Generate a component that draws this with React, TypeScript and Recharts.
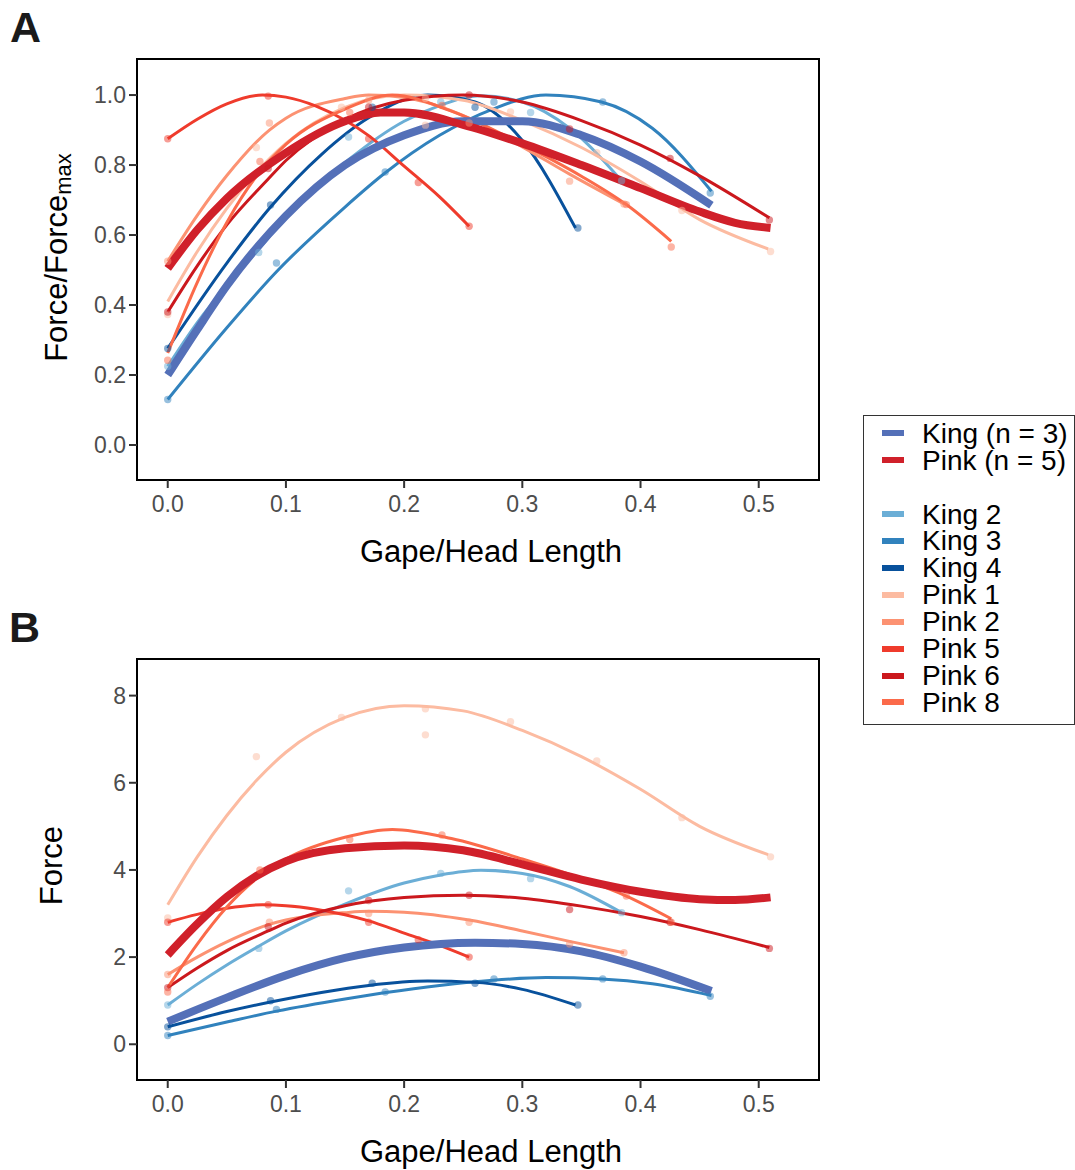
import { ComposedChart, Line, Scatter, XAxis, YAxis, ReferenceArea } from 'recharts'

// ---------------------------------------------------------------------------
// Series meta
// ---------------------------------------------------------------------------

const FONT = '"Liberation Sans", Arial, Helvetica, sans-serif'

const SERIES_NAMES = ['King 2', 'King 3', 'King 4', 'Pink 1', 'Pink 2', 'Pink 5', 'Pink 6', 'Pink 8']
const SERIES_COLORS = ['#6baed6', '#3182bd', '#08519c', '#fcbba1', '#fc9272', '#ef3b2c', '#cb181d', '#fb6a4a']
const AVG_NAMES = ['King (n = 3)', 'Pink (n = 5)']
const AVG_COLORS = ['#5470b8', '#d0202a']

const X_TICKS = [0, 0.1, 0.2, 0.3, 0.4, 0.5]
const Y_TICKS_A = [0, 0.2, 0.4, 0.6, 0.8, 1.0]
const Y_TICKS_B = [0, 2, 4, 6, 8]

// ---------------------------------------------------------------------------
// Panel A — normalised force (fitted curves)
// ---------------------------------------------------------------------------

const kingAvgFitA = [[0, 0.2], [0.025, 0.33], [0.05, 0.455], [0.1, 0.655], [0.15, 0.8], [0.2, 0.885], [0.25, 0.925], [0.3, 0.925], [0.35, 0.885], [0.4, 0.81], [0.46, 0.685]]
const pinkAvgFitA = [[0, 0.505], [0.025, 0.615], [0.05, 0.705], [0.1, 0.835], [0.15, 0.925], [0.18, 0.95], [0.2, 0.95], [0.25, 0.915], [0.3, 0.862], [0.35, 0.8], [0.4, 0.734], [0.45, 0.667], [0.48, 0.635], [0.51, 0.62]]

const king2FitA = [[0, 0.225], [0.025, 0.35], [0.05, 0.455], [0.077, 0.56], [0.1, 0.65], [0.153, 0.815], [0.2, 0.925], [0.23, 0.97], [0.265, 0.998], [0.3, 0.98], [0.34, 0.905], [0.384, 0.755]]
const king3FitA = [[0, 0.13], [0.05, 0.335], [0.092, 0.495], [0.15, 0.68], [0.183, 0.775], [0.23, 0.885], [0.275, 0.96], [0.32, 1.0], [0.367, 0.98], [0.41, 0.905], [0.46, 0.725]]
const king4FitA = [[0, 0.276], [0.05, 0.52], [0.087, 0.68], [0.13, 0.83], [0.17, 0.935], [0.22, 1.0], [0.26, 0.98], [0.3, 0.87], [0.345, 0.62]]
const pink1FitA = [[0, 0.41], [0.025, 0.553], [0.05, 0.676], [0.075, 0.779], [0.1, 0.862], [0.15, 0.965], [0.2, 1.0], [0.25, 0.985], [0.3, 0.927], [0.35, 0.85], [0.4, 0.753], [0.45, 0.644], [0.508, 0.56]]
const pink2FitA = [[0, 0.525], [0.025, 0.656], [0.05, 0.77], [0.086, 0.9], [0.1, 0.934], [0.15, 0.99], [0.17, 1.0], [0.2, 0.993], [0.255, 0.934], [0.3, 0.852], [0.34, 0.774], [0.386, 0.689]]
const pink5FitA = [[0, 0.875], [0.025, 0.931], [0.05, 0.975], [0.08, 1.0], [0.1, 0.994], [0.125, 0.969], [0.15, 0.928], [0.17, 0.884], [0.2, 0.797], [0.23, 0.709], [0.255, 0.625]]
const pink6FitA = [[0, 0.38], [0.025, 0.512], [0.05, 0.629], [0.085, 0.76], [0.1, 0.813], [0.15, 0.93], [0.2, 0.985], [0.25, 1.0], [0.3, 0.98], [0.35, 0.927], [0.4, 0.857], [0.45, 0.769], [0.509, 0.649]]
const pink8FitA = [[0, 0.263], [0.025, 0.465], [0.05, 0.636], [0.075, 0.768], [0.1, 0.859], [0.15, 0.96], [0.19, 1.0], [0.24, 0.954], [0.3, 0.859], [0.35, 0.768], [0.388, 0.687], [0.426, 0.582]]

const king2DotsA = [[0, 0.225], [0.077, 0.55], [0.153, 0.88], [0.231, 0.98], [0.307, 0.95], [0.384, 0.755]]
const king3DotsA = [[0, 0.13], [0.092, 0.52], [0.184, 0.78], [0.276, 0.98], [0.368, 0.98], [0.459, 0.72]]
const king4DotsA = [[0, 0.276], [0.087, 0.686], [0.173, 0.965], [0.26, 0.965], [0.347, 0.62]]
const pink1DotsA = [[0, 0.373], [0.075, 0.85], [0.147, 0.965], [0.218, 0.99], [0.218, 0.914], [0.29, 0.952], [0.363, 0.835], [0.435, 0.67], [0.51, 0.553]]
const pink2DotsA = [[0, 0.525], [0.086, 0.92], [0.17, 0.985], [0.255, 0.92], [0.34, 0.754], [0.386, 0.689]]
const pink5DotsA = [[0, 0.875], [0.085, 0.997], [0.17, 0.875], [0.212, 0.75], [0.255, 0.625]]
const pink6DotsA = [[0, 0.38], [0.085, 0.79], [0.17, 0.965], [0.255, 1.0], [0.34, 0.903], [0.425, 0.819], [0.509, 0.643]]
const pink8DotsA = [[0, 0.242], [0.078, 0.81], [0.154, 0.95], [0.232, 0.97], [0.388, 0.687], [0.426, 0.566]]

// ---------------------------------------------------------------------------
// Panel B — absolute force
// ---------------------------------------------------------------------------

const kingAvgFitB = [[0, 0.52], [0.05, 1.07], [0.1, 1.58], [0.15, 1.98], [0.2, 2.22], [0.26, 2.33], [0.3, 2.3], [0.35, 2.13], [0.4, 1.78], [0.46, 1.22]]
const pinkAvgFitB = [[0, 2.05], [0.025, 2.76], [0.05, 3.38], [0.075, 3.86], [0.1, 4.2], [0.15, 4.5], [0.2, 4.56], [0.25, 4.45], [0.3, 4.13], [0.35, 3.78], [0.4, 3.5], [0.45, 3.33], [0.48, 3.31], [0.51, 3.37]]

const king2FitB = [[0, 0.9], [0.025, 1.38], [0.05, 1.82], [0.077, 2.25], [0.1, 2.6], [0.153, 3.25], [0.2, 3.7], [0.23, 3.88], [0.265, 3.99], [0.3, 3.92], [0.34, 3.62], [0.384, 3.02]]
const king3FitB = [[0, 0.2], [0.05, 0.51], [0.092, 0.76], [0.15, 1.04], [0.183, 1.18], [0.23, 1.35], [0.275, 1.47], [0.32, 1.53], [0.367, 1.5], [0.41, 1.39], [0.46, 1.12]]
const king4FitB = [[0, 0.4], [0.05, 0.75], [0.087, 0.97], [0.13, 1.19], [0.17, 1.35], [0.22, 1.45], [0.26, 1.42], [0.3, 1.26], [0.345, 0.9]]
const pink1FitB = [[0, 3.2], [0.025, 4.3], [0.05, 5.25], [0.075, 6.05], [0.1, 6.7], [0.15, 7.5], [0.2, 7.77], [0.25, 7.65], [0.3, 7.2], [0.35, 6.6], [0.4, 5.85], [0.45, 5.0], [0.508, 4.35]]
const pink2FitB = [[0, 1.6], [0.025, 2.0], [0.05, 2.35], [0.086, 2.75], [0.1, 2.85], [0.15, 3.02], [0.17, 3.05], [0.2, 3.03], [0.255, 2.85], [0.3, 2.6], [0.34, 2.36], [0.386, 2.1]]
const pink5FitB = [[0, 2.8], [0.025, 2.98], [0.05, 3.12], [0.08, 3.2], [0.1, 3.18], [0.125, 3.1], [0.15, 2.97], [0.17, 2.83], [0.2, 2.55], [0.23, 2.27], [0.255, 2.0]]
const pink6FitB = [[0, 1.3], [0.025, 1.75], [0.05, 2.15], [0.085, 2.6], [0.1, 2.78], [0.15, 3.18], [0.2, 3.37], [0.25, 3.42], [0.3, 3.35], [0.35, 3.17], [0.4, 2.93], [0.45, 2.63], [0.509, 2.22]]
const pink8FitB = [[0, 1.3], [0.025, 2.3], [0.05, 3.15], [0.075, 3.8], [0.1, 4.25], [0.15, 4.75], [0.19, 4.93], [0.24, 4.72], [0.3, 4.25], [0.35, 3.8], [0.388, 3.4], [0.426, 2.88]]

const king2DotsB = [[0, 0.9], [0.077, 2.2], [0.153, 3.52], [0.231, 3.92], [0.307, 3.8], [0.384, 3.02]]
const king3DotsB = [[0, 0.2], [0.092, 0.8], [0.184, 1.2], [0.276, 1.5], [0.368, 1.5], [0.459, 1.1]]
const king4DotsB = [[0, 0.4], [0.087, 1.0], [0.173, 1.4], [0.26, 1.4], [0.347, 0.9]]
const pink1DotsB = [[0, 2.9], [0.075, 6.6], [0.147, 7.5], [0.218, 7.7], [0.218, 7.1], [0.29, 7.4], [0.363, 6.5], [0.435, 5.2], [0.51, 4.3]]
const pink2DotsB = [[0, 1.6], [0.086, 2.8], [0.17, 3.0], [0.255, 2.8], [0.34, 2.3], [0.386, 2.1]]
const pink5DotsB = [[0, 2.8], [0.085, 3.2], [0.17, 2.8], [0.212, 2.4], [0.255, 2.0]]
const pink6DotsB = [[0, 1.3], [0.085, 2.7], [0.17, 3.3], [0.255, 3.42], [0.34, 3.09], [0.425, 2.8], [0.509, 2.2]]
const pink8DotsB = [[0, 1.2], [0.078, 4.0], [0.154, 4.7], [0.232, 4.8], [0.388, 3.4], [0.426, 2.8]]

// ---------------------------------------------------------------------------
// Layout constants
// ---------------------------------------------------------------------------

const CHART_W = 840
const CHART_H = 600
const X_DOMAIN: [number, number] = [-0.026, 0.551]

const toPts = (arr: number[][]) => arr.map(([x, y]) => ({ x, y }))

const dotShape = (color: string) => (props: any) => (
  <circle cx={props.cx} cy={props.cy} r={3.7} fill={color} fillOpacity={0.5} />
)

interface PanelProps {
  fits: number[][][]
  avgFits: number[][][]
  dots: number[][][]
  yDomain: [number, number]
  yTicks: number[]
  yDecimals: number
  yTitle: React.ReactNode
  top: number
}

function Panel({ fits, avgFits, dots, yDomain, yTicks, yDecimals, yTitle, top }: PanelProps) {
  const tickStyle = { fill: '#4d4d4d', fontSize: 23, fontFamily: FONT }
  const tickLine = { stroke: '#333', strokeWidth: 2 }
  return (
    <div style={{ position: 'absolute', left: 0, top, width: CHART_W, height: CHART_H }}>
      <ComposedChart width={CHART_W} height={CHART_H} margin={{ top: 59, right: 21, bottom: 20, left: 0 }}>
        <XAxis
          type="number"
          dataKey="x"
          domain={X_DOMAIN}
          ticks={X_TICKS}
          allowDataOverflow
          tickFormatter={(v: number) => v.toFixed(1)}
          height={100}
          tickSize={8}
          tickMargin={8}
          axisLine={false}
          tickLine={tickLine}
          tick={tickStyle}
          label={() => (
            <text x={491} y={562} textAnchor="middle" fontSize={31} fontFamily={FONT} fill="#000">
              Gape/Head Length
            </text>
          )}
        />
        <YAxis
          type="number"
          domain={yDomain}
          ticks={yTicks}
          allowDataOverflow
          tickFormatter={(v: number) => v.toFixed(yDecimals)}
          width={137}
          tickSize={8}
          tickMargin={3}
          axisLine={false}
          tickLine={tickLine}
          tick={tickStyle}
          label={() => yTitle}
        />

        {/* individual fits */}
        {fits.map((f, i) => (
          <Line
            key={SERIES_NAMES[i]}
            data={toPts(f)}
            dataKey="y"
            type="monotone"
            stroke={SERIES_COLORS[i]}
            strokeWidth={3}
            dot={false}
            activeDot={false}
            isAnimationActive={false}
          />
        ))}

        {/* group averages */}
        {avgFits.map((f, i) => (
          <Line
            key={AVG_NAMES[i]}
            data={toPts(f)}
            dataKey="y"
            type="monotone"
            stroke={AVG_COLORS[i]}
            strokeWidth={8}
            dot={false}
            activeDot={false}
            isAnimationActive={false}
          />
        ))}

        {/* raw points */}
        {dots.map((d, i) => (
          <Scatter
            key={SERIES_NAMES[i] + '-pts'}
            data={toPts(d)}
            dataKey="y"
            shape={dotShape(SERIES_COLORS[i])}
            isAnimationActive={false}
          />
        ))}

        <ReferenceArea
          x1={X_DOMAIN[0]}
          x2={X_DOMAIN[1]}
          y1={yDomain[0]}
          y2={yDomain[1]}
          fill="none"
          stroke="#000"
          strokeWidth={2}
          ifOverflow="visible"
        />
      </ComposedChart>
    </div>
  )
}

// ---------------------------------------------------------------------------
// Shared legend
// ---------------------------------------------------------------------------

const LEGEND_ROWS: ({ name: string; color: string } | null)[] = [
  ...AVG_NAMES.map((name, i) => ({ name, color: AVG_COLORS[i] })),
  null,
  ...SERIES_NAMES.map((name, i) => ({ name, color: SERIES_COLORS[i] })),
]

function SharedLegend() {
  const rowH = 26.9
  return (
    <div
      style={{
        position: 'absolute',
        left: 863,
        top: 415,
        width: 212,
        height: 310,
        boxSizing: 'border-box',
        border: '1.5px solid #333',
        background: '#fff',
      }}
    >
      {LEGEND_ROWS.map((row, k) =>
        row ? (
          <div
            key={row.name}
            style={{ position: 'absolute', left: 0, top: 4.8 + k * rowH, height: 26, width: 210 }}
          >
            <div style={{ position: 'absolute', left: 17.5, top: 9.7, width: 22, height: 6, background: row.color }} />
            <div
              style={{
                position: 'absolute',
                left: 58,
                top: 0,
                fontSize: 28,
                lineHeight: '26px',
                fontFamily: FONT,
                color: '#000',
                whiteSpace: 'nowrap',
              }}
            >
              {row.name}
            </div>
          </div>
        ) : null
      )}
    </div>
  )
}

// ---------------------------------------------------------------------------
// App
// ---------------------------------------------------------------------------

export default function App() {
  const letter = { position: 'absolute' as const, fontSize: 43, fontWeight: 700, lineHeight: '43px', fontFamily: FONT, color: '#1a1a1a' }

  return (
    <div style={{ position: 'absolute', left: 0, top: 0, width: 1075, height: 1170, background: '#fff', overflow: 'hidden' }}>
      <div style={{ ...letter, left: 10, top: 6 }}>A</div>
      <div style={{ ...letter, left: 9, top: 606 }}>B</div>

      <Panel
        top={0}
        fits={[king2FitA, king3FitA, king4FitA, pink1FitA, pink2FitA, pink5FitA, pink6FitA, pink8FitA]}
        avgFits={[kingAvgFitA, pinkAvgFitA]}
        dots={[king2DotsA, king3DotsA, king4DotsA, pink1DotsA, pink2DotsA, pink5DotsA, pink6DotsA, pink8DotsA]}
        yDomain={[-0.1, 1.103]}
        yTicks={Y_TICKS_A}
        yDecimals={1}
        yTitle={
          <text transform="translate(67, 257.5) rotate(-90)" textAnchor="middle" fontSize={31} fontFamily={FONT} fill="#000">
            Force/Force
            <tspan fontSize={22} dy={4}>max</tspan>
          </text>
        }
      />

      <Panel
        top={600}
        fits={[king2FitB, king3FitB, king4FitB, pink1FitB, pink2FitB, pink5FitB, pink6FitB, pink8FitB]}
        avgFits={[kingAvgFitB, pinkAvgFitB]}
        dots={[king2DotsB, king3DotsB, king4DotsB, pink1DotsB, pink2DotsB, pink5DotsB, pink6DotsB, pink8DotsB]}
        yDomain={[-0.82, 8.84]}
        yTicks={Y_TICKS_B}
        yDecimals={0}
        yTitle={
          <text transform="translate(62, 265.5) rotate(-90)" textAnchor="middle" fontSize={31} fontFamily={FONT} fill="#000">
            Force
          </text>
        }
      />

      <SharedLegend />
    </div>
  )
}
